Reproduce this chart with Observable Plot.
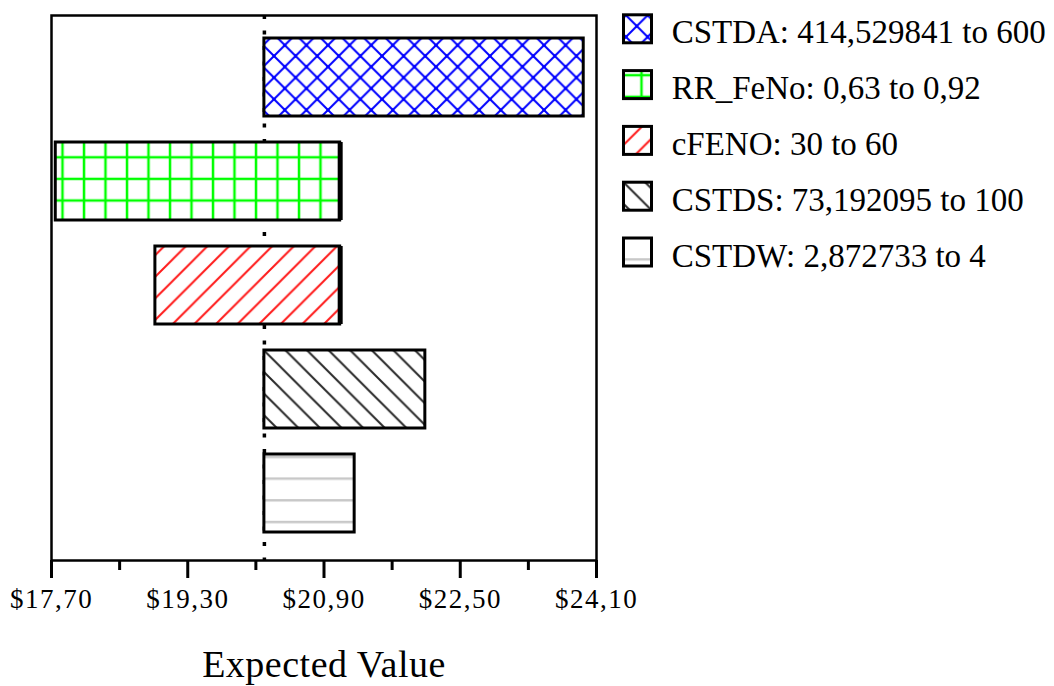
<!DOCTYPE html>
<html>
<head>
<meta charset="utf-8">
<script src="https://cdn.jsdelivr.net/npm/d3@7"></script>
<script src="https://cdn.jsdelivr.net/npm/@observablehq/plot@0.6"></script>
<style>
  body { margin: 0; background: #fff; }
  #wrap { position: relative; width: 1054px; height: 686px; overflow: hidden; }
  #wrap > svg { position: absolute; top: 0; }
</style>
</head>
<body>
<svg width="0" height="0" style="position:absolute">
  <defs>
    <pattern id="pCSTDA" patternUnits="userSpaceOnUse" width="21.6" height="21.6" x="4" y="2">
      <rect width="21.6" height="21.6" fill="white"/>
      <path d="M0,0L21.6,21.6M21.6,0L0,21.6" stroke="#0000ff" stroke-width="2"/>
      <rect x="9.3" y="9.3" width="3" height="3" fill="#0000ff"/>
      <rect x="-1.5" y="-1.5" width="3" height="3" fill="#0000ff"/>
      <rect x="20.1" y="-1.5" width="3" height="3" fill="#0000ff"/>
      <rect x="-1.5" y="20.1" width="3" height="3" fill="#0000ff"/>
      <rect x="20.1" y="20.1" width="3" height="3" fill="#0000ff"/>
    </pattern>
    <pattern id="pRR" patternUnits="userSpaceOnUse" width="21.5" height="21.6" x="8.7" y="-4.7">
      <rect width="21.5" height="21.6" fill="white"/>
      <path d="M10.8,0V21.6M0,10.8H21.5" stroke="#00ff00" stroke-width="2.5"/>
    </pattern>
    <pattern id="pFENO" patternUnits="userSpaceOnUse" width="21.6" height="21.6">
      <rect width="21.6" height="21.6" fill="white"/>
      <path d="M0,21.6L21.6,0M-10.8,10.8L10.8,-10.8M10.8,32.4L32.4,10.8" stroke="#ff1a1a" stroke-width="2"/>
    </pattern>
    <pattern id="pCSTDS" patternUnits="userSpaceOnUse" width="21.6" height="21.6">
      <rect width="21.6" height="21.6" fill="white"/>
      <path d="M0,0L21.6,21.6M-10.8,10.8L10.8,32.4M10.8,-10.8L32.4,10.8" stroke="#2a2a2a" stroke-width="2"/>
    </pattern>
    <pattern id="pCSTDW" patternUnits="userSpaceOnUse" width="21.6" height="21.7">
      <rect width="21.6" height="21.7" fill="white"/>
      <path d="M0,1.2H21.6" stroke="#c8c8c8" stroke-width="2.5"/>
    </pattern>
  </defs>
</svg>
<div id="wrap"></div>
<script>
// ---- data ----
const names = ["CSTDA", "RR_FeNo", "cFENO", "CSTDS", "CSTDW"];
const lows = [20.2, 17.75, 18.92, 20.2, 20.2];
const highs = [23.95, 21.09, 21.09, 22.09, 21.26];
const baseValue = 20.2;
const legendLabels = [
  "CSTDA: 414,529841 to 600",
  "RR_FeNo: 0,63 to 0,92",
  "cFENO: 30 to 60",
  "CSTDS: 73,192095 to 100",
  "CSTDW: 2,872733 to 4"
];
const patternIds = ["pCSTDA", "pRR", "pFENO", "pCSTDS", "pCSTDW"];
const tickValues = [17.7, 19.3, 20.9, 22.5, 24.1];
const tickLabels = ["$17,70", "$19,30", "$20,90", "$22,50", "$24,10"];
const minorTicks = [18.5, 20.1, 21.7, 23.3];
const axisTitle = "Expected Value";

const data = names.map((n, i) => ({name: n, low: lows[i], high: highs[i]}));
const fills = patternIds.map(id => `url(#${id})`);
const serif = "Liberation Serif, Times New Roman, serif";

const chart = Plot.plot({
  width: 1054,
  height: 686,
  marginLeft: 51,
  marginRight: 458,
  marginTop: 15,
  marginBottom: 126,
  style: {fontFamily: serif, background: "transparent", color: "black"},
  x: {domain: [17.7, 24.1], label: null},
  y: {domain: names, range: [24.7, 544.7], paddingInner: 0.25, paddingOuter: 0.125, axis: null, label: null},
  color: {type: "ordinal", domain: names, range: fills},
  marks: [
    Plot.ruleX([baseValue], {stroke: "black", strokeWidth: 3.5, strokeDasharray: "4,11.5"}),
    Plot.barX(data, {x1: "low", x2: "high", y: "name", fill: "name", stroke: "black", strokeWidth: 3}),
    Plot.tickX(data.filter(d => d.low < baseValue), {x: "high", y: "name", stroke: "black", strokeWidth: 5}),
    Plot.frame({stroke: "black", strokeWidth: 2.5}),
    Plot.axisX(tickValues, {
      tickSize: 18, tickPadding: 10, strokeWidth: 3, fontSize: 27, label: null,
      tickFormat: d => tickLabels[tickValues.indexOf(d)]
    }),
    Plot.axisX(minorTicks, {tickSize: 10, strokeWidth: 3, label: null, tickFormat: () => ""}),
    Plot.text([axisTitle], {frameAnchor: "bottom", dy: 90, lineAnchor: "top", fontSize: 38, text: d => d})
  ]
});
chart.style.left = "0px";
chart.querySelectorAll('[aria-label="x-axis tick label"]').forEach(g => g.style.letterSpacing = "1.5px");
chart.querySelectorAll('[aria-label="text"]').forEach(g => g.style.letterSpacing = "0.5px");
const wrap = document.getElementById("wrap");
wrap.appendChild(chart);

// legend (separate small svg to the right of the chart)
const lg = d3.select(wrap).append("svg")
  .attr("width", 432).attr("height", 290)
  .style("left", "622px")
  .attr("font-family", serif);
const rows = lg.selectAll("g").data(names).join("g")
  .attr("transform", (d, i) => `translate(0,${13.3 + i * 55.8})`);
rows.append("rect")
  .attr("x", 1.5).attr("y", 1.5).attr("width", 28).attr("height", 28)
  .attr("fill", (d, i) => fills[i])
  .attr("stroke", "black").attr("stroke-width", 3);
rows.append("text")
  .attr("x", 49.7).attr("y", 30)
  .attr("font-size", 33)
  .attr("fill", "black")
  .text((d, i) => legendLabels[i]);
</script>
</body>
</html>
